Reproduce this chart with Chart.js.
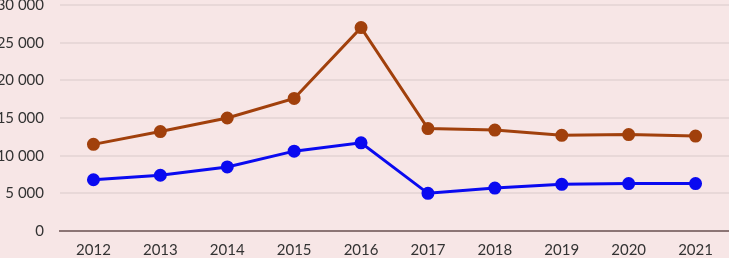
<!DOCTYPE html>
<html>
<head>
<meta charset="utf-8">
<script src="https://cdn.jsdelivr.net/npm/chart.js@4"></script>
<style>
  html, body { margin: 0; padding: 0; background: #f7e6e6; }
  #wrap { position: relative; width: 729px; height: 258px; overflow: hidden; }
  #box { position: absolute; left: 0; top: -20px; width: 729px; height: 289px; }
</style>
</head>
<body>
<div id="wrap"><div id="box"><canvas id="lineChart"></canvas></div></div>
<script>
var years = ["2012", "2013", "2014", "2015", "2016", "2017", "2018", "2019", "2020", "2021"];
var upperSeries = [11500, 13200, 15000, 17600, 27000, 13600, 13400, 12700, 12800, 12600];
var lowerSeries = [6800, 7400, 8500, 10600, 11700, 5000, 5700, 6200, 6300, 6300];

var ctx = document.getElementById("lineChart");

new Chart(ctx, {
    type: "line",
    data: {
        labels: years,
        datasets: [
            {
                data: upperSeries,
                borderColor: "#a1400c",
                backgroundColor: "#a1400c",
                borderWidth: 3,
                pointRadius: 5,
                pointHoverRadius: 5,
            },
            {
                data: lowerSeries,
                borderColor: "#0a0af0",
                backgroundColor: "#0a0af0",
                borderWidth: 3,
                pointRadius: 5,
                pointHoverRadius: 5,
            },
        ],
    },
    options: {
        responsive: true,
        maintainAspectRatio: false,
        animation: false,
        plugins: {
            legend: { display: false },
            tooltip: { enabled: false },
        },
        layout: { autoPadding: false, padding: 0 },
        scales: {
            x: {
                offset: true,
                grid: { display: false, drawTicks: false },
                border: { display: true, color: "#8c7575", width: 2 },
                ticks: {
                    padding: 10,
                    color: "#333333",
                    font: { family: "Lato", size: 15 },
                },
            },
            y: {
                min: 0,
                max: 30000,
                grid: { color: "#e8d8d8", lineWidth: 2, drawTicks: false },
                border: { display: false },
                afterFit: function(scale) { scale.width = 60; },
                ticks: {
                    stepSize: 5000,
                    padding: 16,
                    color: "#333333",
                    font: { family: "Lato", size: 15 },
                    callback: function(v) {
                        return String(v).replace(/\B(?=(\d{3})+(?!\d))/g, " ");
                    },
                },
            },
        },
    },
});
</script>
</body>
</html>
